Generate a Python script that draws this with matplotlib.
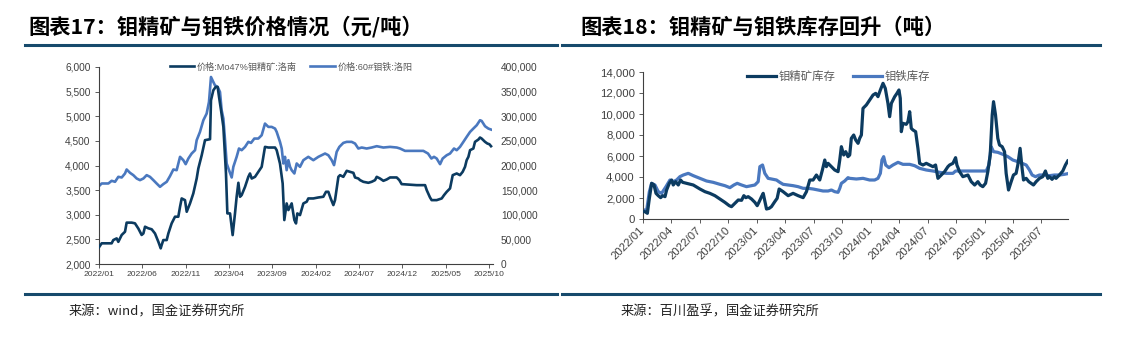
import matplotlib
matplotlib.use('Agg')
import matplotlib.pyplot as plt
from matplotlib.lines import Line2D

plt.rcParams['font.family'] = ['Liberation Sans', 'Noto Sans CJK SC', 'DejaVu Sans']
plt.rcParams['axes.unicode_minus'] = False

DARK = '#0c3b60'
LIGHT = '#4a78bf'
RULE = '#174a6c'

# ---- 图表17 数据（x 为自 2022/01 起的月数）----
mo_x = [0, 0.31, 1.46, 1.65, 2.04, 2.23, 2.62, 3.0, 3.19, 3.77, 4.15, 4.54, 4.92, 5.12,
        5.31, 5.69, 6.08, 6.46, 6.85, 7.12, 7.23, 7.42, 7.81, 8.0, 8.38, 8.77, 9.15,
        9.35, 9.54, 9.92, 10.12, 10.5, 10.88, 11.27, 11.46, 11.85, 12.23, 12.81, 12.92,
        13.19, 13.46, 13.69, 13.85, 14.08, 14.35, 14.65, 14.81, 15.12, 15.42, 15.69,
        15.88, 16.08, 16.27, 16.46, 16.85, 17.23, 17.42, 17.62, 18.0, 18.38, 18.77,
        19.15, 19.54, 20.31, 20.5, 20.88, 21.19, 21.38, 21.65, 21.85, 22.23, 22.54,
        22.73, 22.88, 23.19, 23.58, 23.96, 24.15, 24.73, 25.31, 25.88, 26.19, 26.46,
        26.73, 27.04, 27.23, 27.62, 27.81, 28.19, 28.58, 28.96, 29.35, 29.54, 29.92,
        30.12, 30.5, 31.08, 31.46, 31.85, 32.04, 32.42, 32.81, 33.19, 33.58, 34.35,
        34.65, 34.92, 36.65, 37.62, 37.81, 38.19, 38.38, 38.96, 39.54, 39.81, 40.12,
        40.5, 40.81, 41.27, 41.65, 41.96, 42.23, 42.42, 42.62, 42.81, 43.19, 43.38,
        43.77, 43.96, 44.15, 44.35, 44.54, 44.81, 45.04, 45.23]
mo_price = [2340, 2420, 2420, 2486, 2520, 2450, 2590, 2655, 2840, 2840, 2826, 2720, 2590,
            2620, 2757, 2725, 2705, 2620, 2450, 2318, 2385, 2486, 2486, 2620, 2824, 2960,
            2960, 3162, 3331, 3297, 3061, 3230, 3432, 3736, 3939, 4209, 4514, 4534, 5324,
            5527, 5595, 5595, 5392, 5122, 4784, 3838, 3027, 3027, 2587, 3027, 3365, 3649,
            3365, 3399, 3568, 3770, 3838, 3736, 3770, 3872, 3973, 4378, 4365, 4365, 4311,
            4040, 3635, 2892, 3230, 3095, 3230, 2892, 2824, 3027, 2993, 3230, 3264, 3331,
            3331, 3351, 3365, 3466, 3466, 3331, 3196, 3297, 3770, 3804, 3770, 3892, 3872,
            3851, 3757, 3736, 3703, 3669, 3649, 3669, 3703, 3770, 3736, 3689, 3716, 3757,
            3757, 3703, 3622, 3601, 3601, 3500, 3351, 3297, 3297, 3331, 3399, 3466, 3534,
            3804, 3838, 3804, 3872, 3973, 4108, 4176, 4311, 4345, 4480, 4527, 4568, 4547,
            4514, 4480, 4446, 4432, 4392]

fe_x = [0, 0.31, 1.08, 1.46, 1.85, 2.23, 2.62, 3.0, 3.19, 3.58, 3.96, 4.35, 4.73, 5.12,
        5.5, 5.88, 6.27, 6.65, 7.04, 7.42, 7.81, 8.19, 8.58, 8.96, 9.35, 9.73, 10.0,
        10.31, 10.69, 11.08, 11.27, 11.65, 12.04, 12.42, 12.69, 12.92, 13.19, 13.38,
        13.69, 13.96, 14.15, 14.35, 14.54, 14.73, 15.0, 15.31, 15.5, 15.88, 16.15, 16.46,
        16.85, 17.23, 17.54, 17.92, 18.38, 18.77, 19.15, 19.54, 19.92, 20.31, 20.5,
        20.88, 21.08, 21.27, 21.46, 21.65, 21.85, 22.04, 22.23, 22.54, 22.81, 23.19,
        23.58, 24.15, 24.73, 25.31, 25.69, 26.08, 26.46, 26.85, 27.12, 27.42, 27.73,
        28.19, 28.58, 29.15, 29.54, 29.92, 30.31, 30.88, 31.46, 32.04, 32.81, 33.58,
        34.35, 34.73, 35.31, 36.65, 37.42, 37.96, 38.35, 38.65, 38.96, 39.35, 39.65,
        40.12, 40.5, 40.96, 41.27, 41.65, 42.04, 42.42, 42.81, 43.19, 43.58, 43.96,
        44.15, 44.54, 44.92, 45.23]
fe_price = [158100, 163500, 163500, 168900, 166900, 177000, 175700, 183800, 191900,
            185100, 180400, 173600, 170300, 173600, 180400, 177000, 170300, 163500,
            156700, 162200, 166900, 178400, 191900, 190500, 217600, 210800, 202700,
            214200, 224300, 231100, 251400, 268200, 291900, 305400, 329100, 379700,
            369600, 362800, 359500, 349300, 312200, 295300, 251400, 204100, 190500,
            175700, 197300, 217600, 234500, 231100, 237800, 248000, 245900, 254700,
            254700, 261500, 285100, 278400, 278400, 275000, 268200, 248000, 234500,
            204100, 217600, 190500, 210800, 197300, 190500, 183800, 204100, 197300,
            210800, 217600, 210800, 217600, 220900, 224300, 220900, 210800, 200700,
            227700, 237800, 245900, 248000, 248000, 244600, 234500, 236500, 234500,
            236500, 239200, 236500, 237800, 236500, 234500, 229700, 229700, 229700,
            224300, 214200, 217600, 214200, 202700, 214200, 220900, 224300, 234500,
            231100, 237800, 248000, 258100, 268200, 275000, 281800, 291900, 290500,
            279700, 275000, 273000]

x17_ticks = [0, 5, 10, 15, 20, 25, 30, 35, 40, 45]
x17_labels = ['2022/01', '2022/06', '2022/11', '2023/04', '2023/09', '2024/02',
              '2024/07', '2024/12', '2025/05', '2025/10']

# ---- 图表18 数据 ----
ore_x = [0, 0.21, 0.46, 0.67, 0.91, 1.16, 1.37, 1.61, 1.86, 2.07, 2.32, 2.49, 2.77, 3.02,
         3.19, 3.44, 3.72, 3.96, 4.18, 4.6, 5.3, 6.0, 6.53, 7.05, 7.58, 8.11, 8.63, 9.09,
         9.33, 9.68, 10.04, 10.39, 10.63, 10.84, 11.09, 11.44, 11.79, 12.04, 12.25, 12.49,
         12.67, 12.84, 13.02, 13.3, 13.54, 13.89, 14.14, 14.35, 14.77, 15.3, 15.82, 16.35,
         16.88, 17.23, 17.58, 17.93, 18.28, 18.63, 18.91, 19.16, 19.33, 19.51, 19.86,
         20.21, 20.56, 20.74, 20.91, 21.16, 21.37, 21.61, 21.79, 21.96, 22.21, 22.42,
         22.67, 22.84, 23.02, 23.19, 23.54, 23.89, 24.25, 24.53, 24.77, 25.02, 25.3,
         25.54, 25.82, 26.0, 26.18, 26.53, 26.77, 26.98, 27.12, 27.23, 27.4, 27.75, 27.93,
         28.11, 28.28, 28.46, 28.74, 28.98, 29.16, 29.51, 29.86, 30.21, 30.56, 30.84,
         31.09, 31.44, 31.79, 32.14, 32.32, 32.67, 32.95, 33.09, 33.37, 33.72, 34.25,
         34.6, 34.96, 35.3, 35.54, 35.82, 36.11, 36.35, 36.6, 36.81, 36.95, 37.16, 37.4,
         37.58, 37.86, 38.11, 38.28, 38.53, 38.81, 39.05, 39.33, 39.51, 39.75, 39.96,
         40.11, 40.39, 40.67, 40.91, 41.16, 41.44, 41.79, 42.14, 42.42, 42.67, 42.84,
         43.12, 43.37, 43.54, 43.89, 44.25, 44.53, 44.77]
ore_stock = [700, 700, 540, 1968, 3397, 3238, 2444, 2222, 2032, 2222, 2127, 2762, 3397,
             3714, 3238, 3556, 3238, 3714, 3492, 3397, 3238, 2857, 2603, 2444, 2222, 1905,
             1587, 1270, 1175, 1492, 1810, 1780, 2222, 2032, 2127, 1905, 1587, 1270, 1651,
             2127, 2444, 1714, 952, 1016, 1175, 1651, 1968, 2857, 2603, 2222, 2444, 2222,
             2032, 2603, 3714, 3714, 4190, 3714, 4667, 5619, 4984, 5302, 4984, 4667, 4508,
             5619, 6889, 6095, 6413, 5937, 6095, 7683, 8000, 7524, 7206, 7683, 8000, 10540,
             10857, 11333, 11810, 11968, 11651, 12286, 12921, 12444, 11016, 9746, 11016,
             11651, 11968, 12286, 11492, 8317, 9111, 9016, 9270, 10222, 8635, 8476, 8317,
             6730, 5302, 5143, 5302, 5143, 4984, 5143, 3873, 4190, 4508, 4984, 5143, 5302,
             5841, 5143, 4508, 4032, 4190, 3556, 3238, 3556, 3238, 3079, 3397, 4508, 6095,
             9905, 11175, 9905, 7683, 7048, 6889, 6413, 4349, 2762, 3556, 4190, 4349, 5143,
             6730, 4825, 3714, 3873, 3556, 3397, 3238, 3556, 3873, 4032, 4571, 3873, 4032,
             3778, 4032, 3873, 4190, 4571, 5143, 5524]

fe_stock_x = [0, 0.39, 0.67, 0.91, 1.26, 1.61, 1.96, 2.42, 2.84, 3.19, 3.54, 3.89, 4.25,
              4.77, 5.3, 6.0, 6.7, 7.4, 8.11, 8.63, 9.16, 9.58, 9.93, 10.39, 10.91, 11.44,
              11.79, 12.14, 12.32, 12.6, 12.84, 13.19, 13.54, 14.07, 14.42, 14.77, 15.3,
              15.82, 16.35, 16.88, 17.4, 17.93, 18.46, 18.98, 19.51, 19.86, 20.21, 20.56,
              20.74, 20.91, 21.26, 21.61, 21.79, 22.49, 23.19, 23.89, 24.42, 24.77, 25.02,
              25.19, 25.37, 25.58, 25.93, 26.35, 26.88, 27.4, 28.11, 28.63, 29.16, 29.86,
              30.56, 31.26, 31.96, 32.67, 32.95, 33.37, 34.42, 35.47, 36.18, 36.46, 36.7,
              36.95, 37.4, 37.93, 38.46, 38.98, 39.51, 39.96, 40.39, 40.74, 41.02, 41.37,
              41.79, 42.32, 42.84, 43.37, 43.89, 44.42, 44.77]
fe_stock = [857, 857, 2603, 3397, 3238, 2603, 2444, 3079, 3714, 3556, 3714, 4032, 4190,
            4349, 4127, 3873, 3619, 3492, 3302, 3175, 2984, 3238, 3397, 3238, 3079, 3175,
            3238, 3556, 4984, 5143, 4349, 3873, 3810, 3714, 3492, 3302, 3238, 3175, 3079,
            2921, 2921, 2857, 2762, 2667, 2667, 2762, 2603, 2540, 2921, 3397, 3619, 3937,
            3873, 3810, 3873, 3714, 3714, 3873, 4349, 5619, 5937, 5143, 4889, 5143, 5397,
            5206, 5206, 5079, 4825, 4667, 4571, 4444, 4349, 4349, 4571, 4571, 4571, 4571,
            4571, 5143, 6889, 6413, 6349, 6159, 5937, 5619, 5460, 5302, 5143, 4667, 4190,
            4032, 4190, 4190, 4127, 4190, 4190, 4254, 4317]

x18_ticks = [0, 3, 6, 9, 12, 15, 18, 21, 24, 27, 30, 33, 36, 39, 42]
x18_labels = ['2022/01', '2022/04', '2022/07', '2022/10', '2023/01', '2023/04', '2023/07',
              '2023/10', '2024/01', '2024/04', '2024/07', '2024/10', '2025/01', '2025/04',
              '2025/07']

W, H = 1122, 341
fig = plt.figure(figsize=(W / 100, H / 100), dpi=100)


def fx(px):
    return px / W


def fy(py):
    return 1 - py / H


# 标题与分隔线
fig.text(fx(28), fy(27), '图表17：钼精矿与钼铁价格情况（元/吨）', fontsize=15.3,
         fontweight='bold', family=['Noto Sans CJK SC'], va='center', ha='left')
fig.text(fx(580), fy(27), '图表18：钼精矿与钼铁库存回升（吨）', fontsize=15.3,
         fontweight='bold', family=['Noto Sans CJK SC'], va='center', ha='left')
for x0, x1 in [(25, 557), (562, 1100)]:
    for yy in (45, 294):
        fig.add_artist(Line2D([fx(x0), fx(x1)], [fy(yy), fy(yy)], color=RULE, lw=2.2))
fig.text(fx(69), fy(312), '来源：wind，国金证券研究所', fontsize=9.5,
         family=['Noto Sans CJK SC'], va='center', ha='left', color='#222222')
fig.text(fx(621), fy(312), '来源：百川盈孚，国金证券研究所', fontsize=9.5,
         family=['Noto Sans CJK SC'], va='center', ha='left', color='#222222')

# ---- 左图 ----
ax1 = fig.add_axes([fx(99), fy(264), fx(393.5), (264 - 67) / H])
ax1.plot(mo_x, mo_price, color=DARK, lw=1.9, label='价格:Mo47%钼精矿:洛南', zorder=3)
ax1.set_xlim(0, 45.4)
ax1.set_ylim(2000, 6000)
ax1.set_yticks(range(2000, 6001, 500))
ax1.set_yticklabels([f'{v:,}' for v in range(2000, 6001, 500)])
ax1.set_xticks(x17_ticks)
ax1.set_xticklabels(x17_labels)
ax2 = ax1.twinx()
ax2.plot(fe_x, fe_price, color=LIGHT, lw=1.9, label='价格:60#钼铁:洛阳', zorder=2)
ax2.set_ylim(0, 400000)
ax2.set_yticks(range(0, 400001, 50000))
ax2.set_yticklabels([f'{v:,}' for v in range(0, 400001, 50000)])
ax1.set_zorder(ax2.get_zorder() + 1)
ax1.patch.set_visible(False)
for a in (ax1, ax2):
    a.spines['top'].set_visible(False)
    a.spines['right'].set_visible(False)
ax2.spines['left'].set_visible(False)
ax2.spines['bottom'].set_visible(False)
for s in ('left', 'bottom'):
    ax1.spines[s].set_color('#404040')
    ax1.spines[s].set_linewidth(0.8)
ax1.tick_params(axis='y', labelsize=7.3, length=3, width=0.6, pad=3, colors='#404040')
ax1.tick_params(axis='x', labelsize=6.1, length=3, width=0.6, pad=2, colors='#404040')
ax2.tick_params(axis='y', labelsize=7.3, length=0, pad=6, colors='#404040')
h = [ax1.get_lines()[0], ax2.get_lines()[0]]
ax1.legend(h, [l.get_label() for l in h], loc='center', bbox_to_anchor=(0.488, 1.0),
           ncol=2, frameon=False, fontsize=6.6, handlelength=2.7, handletextpad=0.3,
           columnspacing=1.4, labelcolor='#595959', borderaxespad=0)

# ---- 右图 ----
ax3 = fig.add_axes([fx(643), fy(219), fx(425), (219 - 72) / H])
ax3.plot(ore_x, ore_stock, color=DARK, lw=2.3, label='钼精矿库存', zorder=3)
ax3.plot(fe_stock_x, fe_stock, color=LIGHT, lw=2.3, label='钼铁库存', zorder=2)
ax3.set_xlim(0, 44.8)
ax3.set_ylim(0, 14000)
ax3.set_yticks(range(0, 14001, 2000))
ax3.set_yticklabels([f'{v:,}' for v in range(0, 14001, 2000)])
ax3.set_xticks(x18_ticks)
ax3.set_xticklabels(x18_labels, rotation=45, ha='right', va='center',
                    rotation_mode='anchor')
ax3.spines['top'].set_visible(False)
ax3.spines['right'].set_visible(False)
for s in ('left', 'bottom'):
    ax3.spines[s].set_color('#404040')
    ax3.spines[s].set_linewidth(0.8)
ax3.tick_params(axis='y', labelsize=8.2, length=3, width=0.6, pad=3, colors='#404040')
ax3.tick_params(axis='x', labelsize=8.2, length=3, width=0.6, pad=4, colors='#404040')
ax3.legend(loc='center', bbox_to_anchor=(0.46, 0.97), ncol=2, frameon=False,
           fontsize=8.2, handlelength=2.6, handletextpad=0.2, columnspacing=1.5,
           labelcolor='#595959', borderaxespad=0)

fig.savefig('out.png', dpi=100)
